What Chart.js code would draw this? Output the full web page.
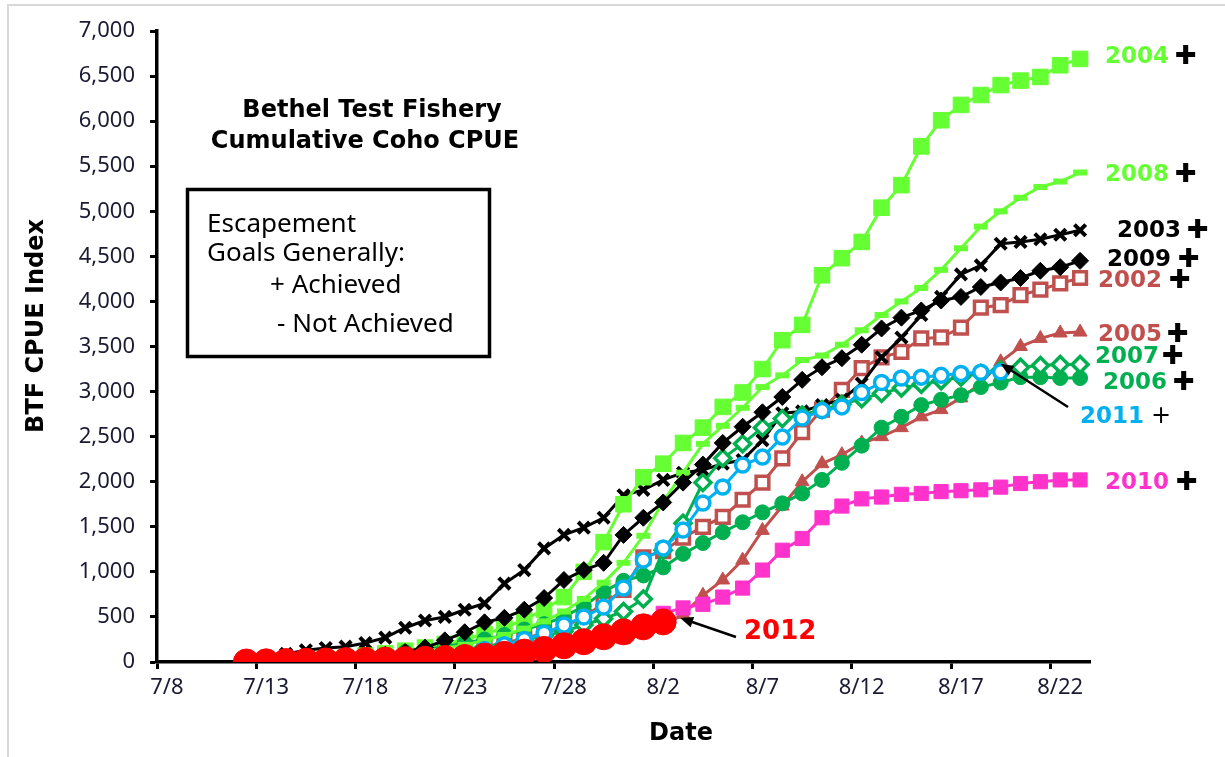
<!DOCTYPE html>
<html>
<head>
<meta charset="utf-8">
<script src="https://cdn.jsdelivr.net/npm/chart.js@4.4.1/dist/chart.umd.min.js"></script>
<style>
  html, body { margin: 0; padding: 0; background: #fff; }
  #wrap { position: relative; width: 1225px; height: 757px; }
  #frame { position: absolute; left: 7px; top: 4px; width: 1230px; height: 760px;
           border-left: 2px solid #d9d9d9; border-top: 2px solid #d9d9d9; }
</style>
</head>
<body>
<div id="wrap">
  <canvas id="myChart" width="1225" height="757"></canvas>
  <div id="frame"></div>
</div>
<script>
// 横軸の日付 (7/8 から 8/23 まで、1日1カテゴリ)
const dates = ['7/8','7/9','7/10','7/11','7/12','7/13','7/14','7/15','7/16','7/17',
  '7/18','7/19','7/20','7/21','7/22','7/23','7/24','7/25','7/26','7/27',
  '7/28','7/29','7/30','7/31','8/1','8/2','8/3','8/4','8/5','8/6',
  '8/7','8/8','8/9','8/10','8/11','8/12','8/13','8/14','8/15','8/16',
  '8/17','8/18','8/19','8/20','8/21','8/22','8/23'];
const firstDay = '7/12'; // どの年も7/12からデータがある

// 縦軸の目盛
const yTicks = [0, 500, 1000, 1500, 2000, 2500, 3000, 3500, 4000, 4500, 5000, 5500, 6000, 6500, 7000];

// 年ごとの累積CPUE (7/12 から)
const cpue2002 = [0,5,10,15,20,30,40,55,70,90,110,140,170,210,260,320,390,500,650,800,
  1160,1230,1380,1500,1610,1800,1990,2260,2550,2800,3020,3260,3380,3440,3590,3600,3710,3930,3960,4070,4130,4200,4260];
const cpue2003 = [40,60,90,130,155,170,210,270,380,460,500,580,650,870,1020,1260,1410,1490,1600,1850,
  1910,2020,2100,2130,2200,2240,2460,2760,2780,2850,2910,3090,3380,3600,3850,4050,4300,4400,4640,4660,4690,4740,4790];
const cpue2004 = [0,5,10,20,35,50,70,95,125,160,200,250,310,380,470,580,720,1000,1330,1750,
  2050,2200,2430,2600,2830,2990,3250,3570,3740,4290,4480,4660,5040,5290,5720,6010,6180,6290,6400,6450,6490,6620,6690];
const cpue2005 = [0,0,5,5,10,10,15,20,25,30,40,50,60,75,90,110,130,160,200,250,
  320,400,530,740,910,1130,1460,1730,2000,2200,2300,2430,2500,2600,2720,2800,2930,3090,3330,3500,3590,3650,3660];
const cpue2006 = [0,5,10,15,25,40,60,80,110,140,170,210,250,300,360,420,500,620,780,900,
  960,1050,1200,1320,1440,1550,1660,1760,1870,2020,2210,2400,2600,2720,2850,2910,2960,3050,3100,3160,3160,3150,3150];
const cpue2007 = [0,5,10,15,20,30,40,55,70,90,110,140,170,200,240,290,340,410,480,560,
  700,1240,1540,1990,2260,2420,2600,2700,2740,2800,2860,2920,2980,3040,3080,3120,3160,3200,3240,3270,3290,3300,3300];
const cpue2008 = [0,5,10,15,25,35,50,70,90,120,150,190,240,300,370,450,560,700,880,1100,
  1400,1780,2100,2420,2620,2820,3050,3180,3350,3400,3520,3680,3850,4000,4150,4350,4590,4830,5000,5150,5270,5330,5430];
const cpue2009 = [0,5,10,20,30,45,60,80,110,160,240,330,440,490,580,710,910,1020,1100,1410,
  1600,1770,1990,2190,2430,2610,2770,2940,3130,3270,3370,3520,3700,3820,3900,4010,4050,4160,4210,4260,4340,4380,4450];
const cpue2010 = [0,0,5,5,10,15,20,25,30,40,50,60,75,90,110,130,160,200,250,330,
  440,540,600,640,720,820,1020,1240,1370,1600,1730,1810,1830,1860,1870,1890,1900,1910,1940,1980,2000,2020,2020];
const cpue2011 = [0,0,0,5,5,10,15,25,35,50,70,100,140,190,250,320,410,500,610,
  821,1131,1264,1464,1763,1941,2185,2273,2495,2706,2790,2830,2990,3100,3150,3160,3180,3200,3215,3220];
const cpue2012 = [0,2,5,8,12,15,18,22,26,30,40,50,65,85,110,140,180,225,280,335,390,445];

// 系列ごとの見た目 (Excelの色に合わせる)
const series = [
  { year: '2002', data: cpue2002, color: '#C0504D', style: 'rect',     r: 9,   fill: '#ffffff', bw: 3.5 },
  { year: '2003', data: cpue2003, color: '#000000', style: 'crossRot', r: 8,   fill: '#000000', bw: 4 },
  { year: '2004', data: cpue2004, color: '#66FF33', style: 'rect',     r: 11,  fill: '#66FF33', bw: 1 },
  { year: '2005', data: cpue2005, color: '#C0504D', style: 'triangle', r: 8,   fill: '#C0504D', bw: 1 },
  { year: '2006', data: cpue2006, color: '#00B050', style: 'circle',   r: 7.5, fill: '#00B050', bw: 1 },
  { year: '2007', data: cpue2007, color: '#00B050', style: 'rectRot',  r: 8,   fill: '#ffffff', bw: 3.5 },
  { year: '2008', data: cpue2008, color: '#66FF33', style: 'line',     r: 7,   fill: '#66FF33', bw: 6 },
  { year: '2009', data: cpue2009, color: '#000000', style: 'rectRot',  r: 8.5, fill: '#000000', bw: 1 },
  { year: '2010', data: cpue2010, color: '#FF33CC', style: 'rect',     r: 10,  fill: '#FF33CC', bw: 1 },
  { year: '2011', data: cpue2011, color: '#00B0F0', style: 'circle',   r: 7,   fill: '#ffffff', bw: 3.5 },
  { year: '2012', data: cpue2012, color: '#FF0000', style: 'circle',   r: 13,  fill: '#FF0000', bw: 1 },
];

// 右側の年ラベル (テキスト, 色, x, y, 十字の位置, 太い十字か)
const yearLabels = [
  ['2004', '#66FF33', 1105, 57, 1186, true],
  ['2008', '#66FF33', 1105, 175, 1186, true],
  ['2003', '#000000', 1117, 231, 1198, true],
  ['2009', '#000000', 1107, 260, 1189, true],
  ['2002', '#C0504D', 1098, 281, 1180, true],
  ['2005', '#C0504D', 1098, 335, 1178, true],
  ['2007', '#00B050', 1095, 357, 1173, true],
  ['2006', '#00B050', 1103, 383, 1184, true],
  ['2011', '#00B0F0', 1080, 417, 1161, false],
  ['2010', '#FF33CC', 1105, 483, 1187, true],
];

const FONT = 'Noto Sans';
const BOLD = 'DejaVu Sans';

function pad(vals) {
  const lead = dates.indexOf(firstDay);
  const out = new Array(lead).fill(null).concat(vals);
  while (out.length < dates.length) out.push(null);
  return out;
}

// 文字や矢印を描くプラグイン
const textPlugin = {
  id: 'texts',
  afterDraw(chart) {
    const ctx = chart.ctx;
    const xs = chart.scales.x, ys = chart.scales.y;
    ctx.save();

    // タイトル
    ctx.fillStyle = '#000';
    ctx.font = 'bold 24px "' + BOLD + '"';
    ctx.textAlign = 'center';
    ctx.textBaseline = 'alphabetic';
    ctx.fillText('Bethel Test Fishery', 372, 117);
    ctx.fillText('Cumulative Coho CPUE', 365, 148);

    // 凡例の箱
    ctx.strokeStyle = '#000';
    ctx.lineWidth = 3.5;
    ctx.strokeRect(187.5, 189.5, 302, 167);
    ctx.font = '26px "' + FONT + '"';
    ctx.textAlign = 'left';
    ctx.fillText('Escapement', 207, 232);
    ctx.fillText('Goals Generally:', 207, 261);
    ctx.fillText('+ Achieved', 270, 293);
    ctx.fillText('- Not Achieved', 277, 332);

    // 軸タイトル
    ctx.font = 'bold 24px "' + BOLD + '"';
    ctx.textAlign = 'center';
    ctx.textBaseline = 'middle';
    ctx.fillText('Date', 681, 734);
    ctx.save();
    ctx.translate(37, 326);
    ctx.rotate(-Math.PI / 2);
    ctx.fillText('BTF CPUE Index', 0, 0);
    ctx.restore();

    // 右側の年ラベルと十字
    ctx.textAlign = 'left';
    yearLabels.forEach(function(l) {
      ctx.fillStyle = l[1];
      ctx.font = 'bold 23px "' + BOLD + '"';
      ctx.fillText(l[0], l[2], l[3]);
      ctx.fillStyle = '#000';
      ctx.textAlign = 'center';
      if (l[5]) {
        ctx.font = 'bold 26px "' + BOLD + '"';
        ctx.fillText('\u271A', l[4], l[3]);
      } else {
        ctx.font = '24px "' + BOLD + '"';
        ctx.fillText('+', l[4], l[3]);
      }
      ctx.textAlign = 'left';
    });

    // 2012 ラベルと矢印
    ctx.fillStyle = '#FF0000';
    ctx.font = 'bold 26px "' + BOLD + '"';
    ctx.fillText('2012', 744, 632);
    const i12 = dates.indexOf(firstDay) + cpue2012.length - 1;
    const p12 = { x: xs.getPixelForValue(i12), y: ys.getPixelForValue(cpue2012[cpue2012.length - 1]) };
    arrow(ctx, 736, 637, p12.x + 17, p12.y - 4);

    // 2011 の矢印
    const i11 = dates.indexOf(firstDay) + cpue2011.length - 1;
    const p11 = { x: xs.getPixelForValue(i11), y: ys.getPixelForValue(cpue2011[cpue2011.length - 1]) };
    arrow(ctx, 1068, 407, p11.x, p11.y - 8);

    ctx.restore();
  }
};

function arrow(ctx, x1, y1, x2, y2) {
  const a = Math.atan2(y2 - y1, x2 - x1);
  const len = 14;
  ctx.strokeStyle = '#000';
  ctx.fillStyle = '#000';
  ctx.lineWidth = 2.5;
  ctx.beginPath();
  ctx.moveTo(x1, y1);
  ctx.lineTo(x2 - Math.cos(a) * 8, y2 - Math.sin(a) * 8);
  ctx.stroke();
  ctx.beginPath();
  ctx.moveTo(x2, y2);
  ctx.lineTo(x2 - len * Math.cos(a - 0.4), y2 - len * Math.sin(a - 0.4));
  ctx.lineTo(x2 - len * Math.cos(a + 0.4), y2 - len * Math.sin(a + 0.4));
  ctx.closePath();
  ctx.fill();
}

window.onload = function() {
  const ctx = document.getElementById('myChart');
  new Chart(ctx, {
    type: 'line',
    data: {
      labels: dates,
      datasets: series.map(function(s, i) {
        return {
          label: s.year,
          data: pad(s.data),
          borderColor: s.color,
          backgroundColor: s.fill,
          borderWidth: 3,
          pointStyle: s.style,
          pointRadius: s.r,
          pointBorderColor: s.color,
          pointBackgroundColor: s.fill,
          pointBorderWidth: s.bw,
          fill: false,
          tension: 0,
          order: series.length - i // 新しい年ほど上に描く
        };
      })
    },
    options: {
      responsive: false,
      animation: false,
      events: [],
      layout: { padding: { left: 0, top: 31, right: 135, bottom: 0 } },
      plugins: { legend: { display: false }, tooltip: { enabled: false } },
      scales: {
        x: {
          type: 'category',
          offset: true,
          afterFit: function(scale) { scale.height = 95; },
          border: { display: true, color: '#000', width: 3.5 },
          grid: {
            offset: true,
            drawOnChartArea: false,
            drawTicks: true,
            tickLength: 7,
            tickWidth: 3,
            tickColor: function(c) { return (c.index % 5 === 0) ? '#000' : 'rgba(0,0,0,0)'; }
          },
          ticks: {
            autoSkip: false,
            maxRotation: 0,
            padding: 6,
            color: '#1a1a33',
            font: { family: FONT, size: 22 },
            callback: function(val, i) { return i % 5 === 0 ? this.getLabelForValue(val) : ''; }
          }
        },
        y: {
          min: yTicks[0],
          max: yTicks[yTicks.length - 1],
          afterFit: function(scale) { scale.width = 157; },
          afterBuildTicks: function(scale) { scale.ticks = yTicks.map(function(v) { return { value: v }; }); },
          border: { display: true, color: '#000', width: 3.5 },
          grid: { drawOnChartArea: false, drawTicks: true, tickLength: 7, tickWidth: 3, tickColor: '#000' },
          ticks: {
            padding: 15,
            color: '#1a1a33',
            font: { family: FONT, size: 22 },
            callback: function(v) { return v.toLocaleString('en-US'); }
          }
        }
      }
    },
    plugins: [textPlugin]
  });
};
</script>
</body>
</html>
